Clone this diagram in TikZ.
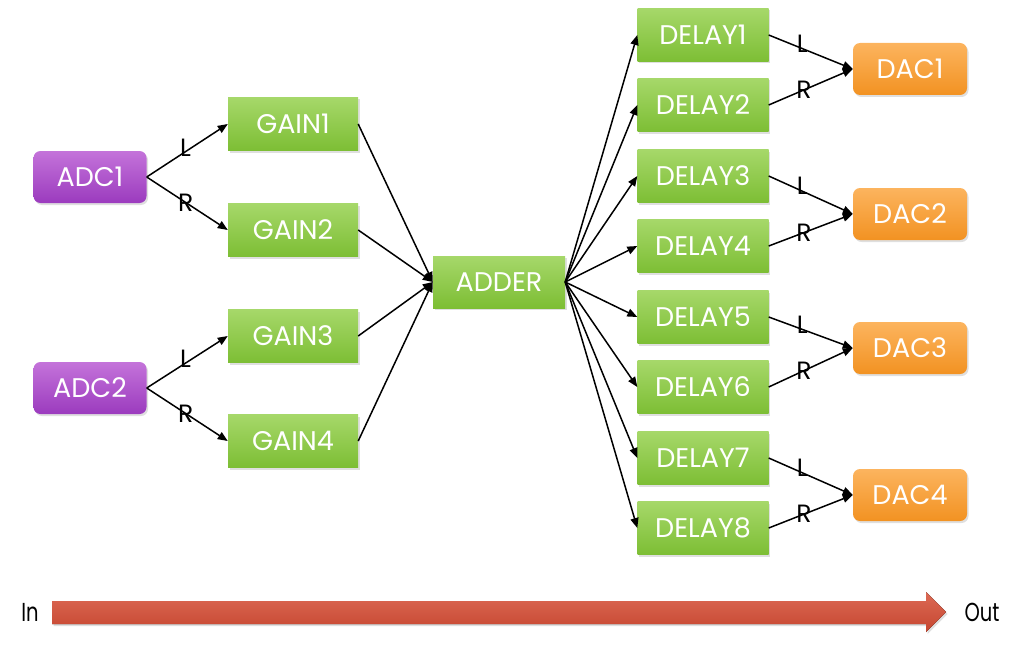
\documentclass[tikz,border=0pt]{standalone}
\usepackage{fontspec}
\newfontfamily\gfont{Poppins}
\usetikzlibrary{arrows.meta,shadows,shapes.arrows}
\definecolor{gtop}{HTML}{A6D86A}
\definecolor{gbot}{HTML}{7DBE34}
\definecolor{ptop}{HTML}{C473DA}
\definecolor{pbot}{HTML}{9B3BBE}
\definecolor{otop}{HTML}{FCB45E}
\definecolor{obot}{HTML}{F29222}
\definecolor{rtop}{HTML}{DC6A55}
\definecolor{rbot}{HTML}{C64630}
\tikzset{
  box/.style={minimum width=130pt, minimum height=53pt, inner sep=0pt, text=white,
    font=\gfont\fontsize{27}{27}\selectfont,
    drop shadow={shadow xshift=1.5pt, shadow yshift=-2pt, opacity=0.25}},
  greenbox/.style={box, top color=gtop, bottom color=gbot},
  adcbox/.style={box, minimum width=113pt, minimum height=52pt, rounded corners=7pt, top color=ptop, bottom color=pbot},
  dacbox/.style={box, minimum width=114pt, minimum height=52pt, rounded corners=7pt, top color=otop, bottom color=obot},
  arr/.style={-{Triangle[length=10pt,width=8pt]}, line width=1.5pt, black},
  lab/.style={font=\gfont\fontsize{25}{25}\selectfont, inner sep=0pt, text=black},
  iolab/.style={font=\gfont\fontsize{26}{26}\selectfont, inner sep=0pt, text=black, xscale=0.75},
}
\begin{document}
\begin{tikzpicture}[x=1pt,y=-1pt]
\useasboundingbox (0,0) rectangle (1024,650);
% sources
\node[adcbox] (adc1) at (90,177) {ADC1};
\node[adcbox] (adc2) at (90,388) {ADC2};
% gains
\node[greenbox] (g1) at (293,124) {GAIN1};
\node[greenbox] (g2) at (293,230) {GAIN2};
\node[greenbox] (g3) at (293,336) {GAIN3};
\node[greenbox] (g4) at (293,441) {GAIN4};
% adder
\node[greenbox, minimum width=132pt, minimum height=52pt] (add) at (499,282) {ADDER};
% delays
\foreach \i/\y in {1/35,2/105,3/176,4/246,5/317,6/387,7/458,8/528}{
  \node[greenbox, minimum width=131pt] (d\i) at (703,\y) {DELAY\i};
}
% dacs
\node[dacbox] (dac1) at (910,69) {DAC1};
\node[dacbox] (dac2) at (910,214) {DAC2};
\node[dacbox] (dac3) at (910,348) {DAC3};
\node[dacbox] (dac4) at (910,495) {DAC4};
% adc -> gain
\draw[arr] (adc1.east) -- node[lab, pos=0.48, yshift=4pt] {L} (g1.west);
\draw[arr] (adc1.east) -- node[lab, pos=0.48] {R} (g2.west);
\draw[arr] (adc2.east) -- node[lab, pos=0.48, yshift=4pt] {L} (g3.west);
\draw[arr] (adc2.east) -- node[lab, pos=0.48] {R} (g4.west);
% gain -> adder
\foreach \g in {g1,g2,g3,g4}{ \draw[arr] (\g.east) -- (add.west); }
% adder -> delays
\foreach \i in {1,...,8}{ \draw[arr] (add.east) -- (d\i.west); }
% delays -> dac
\foreach \a/\b/\c in {d1/d2/dac1,d3/d4/dac2,d5/d6/dac3,d7/d8/dac4}{
  \draw[arr] (\a.east) -- node[lab, pos=0.4, yshift=5pt] {L} (\c.west);
  \draw[arr] (\b.east) -- node[lab, pos=0.42] {R} (\c.west);
}
% in -> out arrow
\node[iolab] (in) at (30,612) {In};
\node[iolab] (out) at (982,612) {Out};
\fill[top color=rtop, bottom color=rbot, drop shadow={shadow xshift=1.5pt, shadow yshift=-2pt, opacity=0.25}]
  (52,601) -- (926,601) -- (926,592) -- (946,612) -- (926,632) -- (926,624) -- (52,624) -- cycle;
\end{tikzpicture}
\end{document}
